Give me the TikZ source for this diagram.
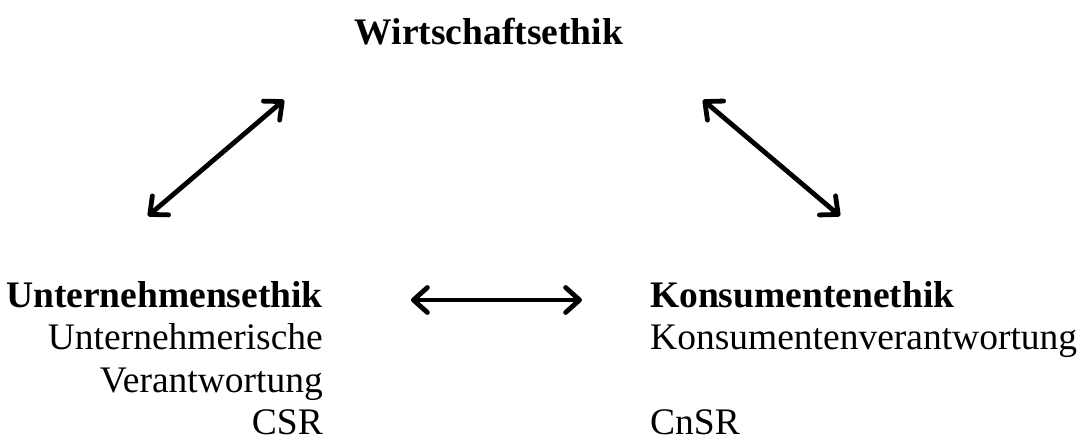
\documentclass[tikz,border=0pt]{standalone}
\usepackage{fontspec}
\setmainfont{Liberation Serif}
\usetikzlibrary{arrows.meta}
\begin{document}
\begin{tikzpicture}[x=1bp,y=-1bp,
  txt/.style={inner sep=0pt, font=\fontsize{37.5bp}{44bp}\selectfont},
  hd/.style={txt, font=\fontsize{37.5bp}{44bp}\selectfont\bfseries},
  barb/.tip={Straight Barb[length=14bp,width=25bp,round]},
  dbl/.style={line width=4.8bp, barb-barb}]
\useasboundingbox (0,0) rectangle (1080,437);
\node[hd, anchor=base] (w) at (489,45) {Wirtschaftsethik};
\node[hd, anchor=base east] (u) at (323,308) {Unternehmensethik};
\node[txt, anchor=base east] (u1) at (323,350) {Unternehmerische};
\node[txt, anchor=base east] (u2) at (323,393) {Verantwortung};
\node[txt, anchor=base east] (csr) at (323,434) {CSR};
\node[hd, anchor=base west] (k) at (650,308) {Konsumentenethik};
\node[txt, anchor=base west] (k1) at (650,350) {Konsumentenverantwortung};
\node[txt, anchor=base west] (cnsr) at (650,434) {CnSR};
\coordinate (la) at (148,216);
\coordinate (lb) at (284,100);
\coordinate (ra) at (703,100);
\coordinate (rb) at (840,216);
\coordinate (ha) at (411,300);
\coordinate (hb) at (582,300);
\draw[dbl] (la) -- (lb);
\draw[dbl] (ra) -- (rb);
\draw[dbl] (ha) -- (hb);
\end{tikzpicture}
\end{document}
